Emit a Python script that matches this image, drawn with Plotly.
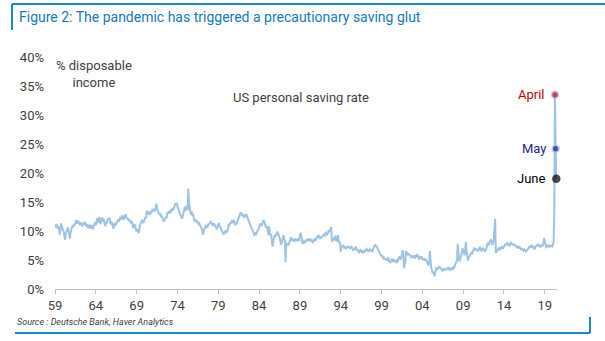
import pandas as pd
import plotly.graph_objects as go

# ---------------- data (monthly, % of disposable income) ----------------
start_month = "1959-01"
saving_rate = [
    11.2, 10.6, 10.9, 11.0, 10.4, 10.8, 10.2, 9.4, 10.0, 11.3, 10.8, 10.5,   # 1959
    10.1, 9.8, 9.0, 8.5, 9.6, 10.1, 10.2, 10.6, 10.0, 9.2, 8.7, 9.8,         # 1960
    10.4, 10.6, 11.0, 10.7, 11.2, 11.0, 11.5, 11.9, 11.3, 11.6, 11.8, 11.4,  # 1961
    11.3, 11.0, 11.5, 11.2, 10.8, 11.4, 11.0, 11.3, 11.6, 11.1, 10.8, 11.2,  # 1962
    10.9, 10.5, 10.8, 11.1, 10.4, 10.7, 11.0, 10.6, 10.3, 10.9, 11.2, 11.5,  # 1963
    11.0, 11.6, 12.2, 11.4, 11.9, 12.4, 11.5, 11.2, 12.0, 12.3, 11.6, 12.2,  # 1964
    11.8, 11.2, 10.8, 11.6, 11.3, 11.9, 12.1, 11.8, 12.3, 11.5, 11.2, 11.7,  # 1965
    11.0, 10.8, 10.4, 11.1, 11.4, 11.0, 11.3, 11.7, 11.9, 12.0, 11.6, 12.2,  # 1966
    12.4, 12.0, 12.5, 12.7, 12.2, 11.9, 12.3, 12.6, 12.9, 12.4, 12.1, 12.3,  # 1967
    11.8, 12.0, 11.6, 11.9, 11.3, 11.7, 10.6, 10.5, 10.9, 11.2, 10.7, 10.3,  # 1968
    9.9, 10.3, 10.1, 9.6, 10.6, 10.9, 11.3, 11.5, 11.9, 11.6, 11.4, 11.8,    # 1969
    12.0, 12.4, 12.2, 13.5, 12.9, 13.1, 13.3, 13.0, 12.8, 13.4, 13.2, 13.6,  # 1970
    13.5, 13.8, 13.4, 13.6, 13.9, 14.7, 13.6, 13.4, 13.2, 13.0, 12.8, 13.1,  # 1971
    12.4, 12.6, 12.2, 12.0, 11.6, 11.9, 12.3, 12.5, 12.2, 13.2, 13.0, 13.4,  # 1972
    13.0, 13.3, 13.5, 13.4, 13.7, 13.9, 13.6, 14.0, 14.3, 14.8, 14.6, 14.9,  # 1973
    14.2, 13.8, 13.6, 13.2, 12.8, 12.5, 12.3, 12.1, 12.6, 13.1, 13.6, 14.2,  # 1974
    13.5, 13.9, 14.3, 13.6, 17.3, 15.0, 13.6, 13.2, 12.8, 13.4, 12.6, 13.0,  # 1975
    12.2, 11.8, 11.9, 11.6, 11.9, 11.4, 11.6, 11.2, 11.3, 11.0, 10.7, 10.6,  # 1976
    10.3, 9.6, 9.4, 10.2, 10.6, 10.4, 10.9, 10.8, 10.6, 11.2, 11.0, 11.3,    # 1977
    11.4, 11.7, 11.5, 11.2, 10.9, 11.1, 11.3, 11.0, 10.8, 10.5, 10.3, 10.8,  # 1978
    11.0, 11.4, 10.9, 10.6, 10.4, 10.2, 10.0, 9.6, 9.4, 9.6, 9.8, 10.1,      # 1979
    9.7, 9.9, 10.2, 11.1, 11.0, 11.2, 11.5, 11.3, 11.7, 11.6, 11.4, 11.9,    # 1980
    11.3, 11.0, 11.2, 11.3, 11.6, 11.9, 12.2, 12.5, 12.8, 13.2, 13.0, 12.7,  # 1981
    12.8, 12.5, 12.4, 12.6, 12.9, 12.6, 12.7, 12.3, 11.8, 11.4, 11.3, 11.0,  # 1982
    10.9, 10.4, 10.3, 10.0, 9.5, 9.3, 9.4, 9.6, 9.5, 9.9, 10.1, 10.2,        # 1983
    10.6, 11.0, 11.3, 11.1, 11.0, 11.3, 11.6, 11.9, 11.5, 11.2, 10.6, 10.9,  # 1984
    10.1, 9.5, 9.3, 10.8, 9.3, 9.5, 9.2, 8.0, 7.3, 8.4, 8.8, 9.3,            # 1985
    9.0, 9.4, 9.8, 9.9, 9.6, 9.3, 8.8, 8.6, 7.7, 7.8, 8.2, 8.6,              # 1986
    9.3, 8.6, 8.4, 4.6, 8.0, 7.7, 7.7, 7.5, 7.8, 8.1, 8.3, 8.9,              # 1987
    8.5, 8.3, 8.6, 8.4, 8.2, 8.5, 8.7, 8.3, 8.6, 8.4, 8.6, 8.5,              # 1988
    9.5, 9.7, 9.2, 8.0, 7.8, 8.1, 8.3, 7.9, 8.2, 8.4, 8.6, 8.3,              # 1989
    8.5, 8.7, 8.4, 8.5, 8.2, 8.6, 8.3, 7.9, 8.3, 8.6, 8.7, 8.3,              # 1990
    8.7, 8.9, 9.0, 9.3, 9.1, 8.8, 8.9, 8.8, 8.9, 9.2, 9.2, 9.4,              # 1991
    9.3, 9.2, 9.7, 9.6, 9.3, 9.8, 10.0, 9.9, 10.0, 10.2, 10.7, 8.1,          # 1992
    8.8, 8.7, 8.6, 8.4, 9.2, 8.5, 8.2, 8.6, 9.3, 8.2, 7.9, 8.1,              # 1993
    6.4, 7.5, 7.2, 7.6, 7.3, 7.0, 7.4, 7.1, 6.9, 7.3, 7.1, 7.4,              # 1994
    7.1, 7.3, 6.9, 7.2, 7.4, 7.0, 6.8, 6.6, 6.9, 7.0, 7.2, 7.1,              # 1995
    6.6, 6.8, 6.3, 6.2, 6.5, 6.7, 6.6, 6.4, 6.5, 6.3, 6.4, 6.6,              # 1996
    6.5, 6.8, 6.9, 6.7, 6.6, 6.4, 6.7, 6.9, 6.6, 6.8, 6.4, 6.8,              # 1997
    7.1, 7.3, 7.5, 7.6, 7.4, 7.3, 7.1, 6.8, 6.5, 6.2, 6.0, 5.8,              # 1998
    5.8, 5.6, 5.4, 5.5, 5.1, 5.3, 5.0, 5.2, 4.9, 5.3, 5.4, 4.7,              # 1999
    4.8, 4.6, 4.9, 5.0, 5.2, 4.7, 5.0, 4.9, 4.6, 4.8, 4.9, 4.5,              # 2000
    5.0, 5.2, 5.6, 5.4, 5.1, 5.3, 6.6, 6.7, 6.0, 3.6, 4.2, 4.6,              # 2001
    6.5, 6.3, 6.0, 5.8, 6.1, 5.9, 5.7, 5.6, 5.8, 5.5, 5.3, 5.6,              # 2002
    5.7, 5.5, 5.4, 5.8, 6.0, 5.6, 5.9, 5.1, 5.3, 5.5, 5.4, 5.6,              # 2003
    5.2, 5.0, 5.3, 5.1, 4.9, 5.2, 4.8, 4.6, 4.4, 4.2, 4.4, 6.6,              # 2004
    3.9, 3.6, 3.3, 2.8, 3.0, 2.5, 2.2, 2.9, 3.5, 3.4, 3.6, 3.5,              # 2005
    3.8, 3.9, 3.7, 3.5, 3.4, 3.6, 3.2, 3.3, 3.4, 3.2, 3.5, 3.3,              # 2006
    3.6, 3.4, 3.8, 3.6, 3.4, 3.2, 3.5, 3.4, 3.6, 3.7, 3.4, 3.9,              # 2007
    4.2, 4.4, 4.8, 4.6, 7.8, 6.2, 5.1, 4.8, 5.2, 5.6, 6.2, 7.0,              # 2008
    6.8, 6.3, 5.8, 6.4, 8.1, 6.6, 5.5, 4.9, 5.4, 5.6, 5.8, 5.9,              # 2009
    6.2, 6.0, 6.3, 6.8, 7.0, 6.9, 6.7, 7.0, 6.8, 6.6, 6.5, 6.8,              # 2010
    7.1, 7.3, 6.8, 6.6, 6.8, 7.0, 6.9, 6.7, 6.5, 6.7, 6.9, 7.4,              # 2011
    8.0, 7.8, 7.7, 8.2, 8.4, 8.5, 8.0, 7.6, 7.9, 8.6, 10.2, 12.1,            # 2012
    6.2, 6.4, 6.6, 6.8, 7.0, 6.9, 6.8, 7.1, 7.3, 7.0, 7.2, 7.1,              # 2013
    7.3, 7.5, 7.7, 7.6, 7.8, 7.9, 7.7, 7.6, 7.4, 7.8, 8.0, 7.9,              # 2014
    7.6, 7.8, 7.5, 7.7, 7.6, 7.4, 7.3, 7.5, 7.2, 7.3, 7.1, 7.2,              # 2015
    7.0, 6.9, 6.8, 6.9, 6.7, 6.6, 6.8, 6.7, 6.5, 6.6, 6.7, 6.9,              # 2016
    7.0, 7.2, 7.3, 7.1, 7.4, 7.6, 7.3, 7.1, 7.0, 7.2, 7.1, 7.5,              # 2017
    7.3, 7.6, 7.8, 7.5, 7.4, 7.3, 7.6, 7.4, 7.3, 7.6, 7.8, 8.8,              # 2018
    8.0, 7.6, 7.2, 7.3, 7.5, 7.4, 7.5, 7.3, 7.4, 7.5, 7.4, 7.3,              # 2019
    7.6, 8.3, 12.9, 33.5, 24.2, 19.0,                                        # 2020
]

highlight_labels = ["April", "May", "June"]
highlight_colors = ["#C00000", "#1F1F8C", "#000000"]

tick_years = [1959, 1964, 1969, 1974, 1979, 1984, 1989, 1994, 1999, 2004, 2009, 2014, 2019]
tick_labels = ["59", "64", "69", "74", "79", "84", "89", "94", "99", "04", "09", "14", "19"]
y_ticks = [0, 5, 10, 15, 20, 25, 30, 35, 40]
y_tick_labels = ["0%", "5%", "10%", "15%", "20%", "25%", "30%", "35%", "40%"]

# ---------------- figure ----------------
dates = pd.date_range(start=start_month, periods=len(saving_rate), freq="MS")
LINE = "#9DC3E6"
FONT = "Roboto"
TEXT = "#404040"
BLUE = "#1479BF"

fig = go.Figure()
fig.add_trace(go.Scatter(
    x=dates, y=saving_rate, mode="lines",
    line=dict(color=LINE, width=2), hoverinfo="skip", showlegend=False,
))

n = len(highlight_labels)
hx = list(dates[-n:])
hy = saving_rate[-n:]
fig.add_trace(go.Scatter(
    x=hx, y=hy, mode="markers", cliponaxis=False,
    marker=dict(color=highlight_colors, size=[7, 7, 7],
                line=dict(color=[LINE, LINE, "#000000"], width=1.5)),
    showlegend=False, hoverinfo="skip",
))
for lab, col, xv, yv in zip(highlight_labels, highlight_colors, hx, hy):
    fig.add_annotation(x=xv, y=yv, text=lab, showarrow=False, xanchor="right",
                       yanchor="middle", xshift=-8,
                       font=dict(family=FONT, size=13, color=col))

# plot-area geometry in pixels (for decorations in paper coords)
L, R, T, B = 55, 48, 57, 52
W, H = 605 - L - R, 341 - T - B

def px(x):
    return (x - L) / W

def py(y):
    return (341 - B - y) / H

fig.add_annotation(xref="paper", yref="paper", x=px(94), y=py(74),
                   text="% disposable<br>income", showarrow=False,
                   xanchor="center", yanchor="middle", align="center",
                   font=dict(family=FONT, size=13, color=TEXT))
fig.add_annotation(xref="paper", yref="paper", x=px(301), y=py(97),
                   text="US personal saving rate", showarrow=False,
                   xanchor="center", yanchor="middle",
                   font=dict(family=FONT, size=13, color=TEXT))
fig.add_annotation(xref="paper", yref="paper", x=px(15), y=py(322),
                   text="<i>Source : Deutsche Bank, Haver Analytics</i>", showarrow=False,
                   xanchor="left", yanchor="middle",
                   font=dict(family=FONT, size=9, color=TEXT))
fig.add_annotation(xref="paper", yref="paper", x=px(17), y=py(17),
                   text="Figure 2: The pandemic has triggered a precautionary saving glut",
                   showarrow=False, xanchor="left", yanchor="middle",
                   font=dict(family=FONT, size=14, color=BLUE))

frame = "#1A88CF"
for x0, y0, x1, y1 in [(12, 4, 605, 4), (12, 4, 12, 30), (15, 333, 590, 333), (590, 317, 590, 333)]:
    fig.add_shape(type="line", xref="paper", yref="paper",
                  x0=px(x0), y0=py(y0), x1=px(x1), y1=py(y1),
                  line=dict(color=frame, width=2))

fig.update_layout(
    width=605, height=341,
    margin=dict(l=L, r=R, t=T, b=B),
    paper_bgcolor="white", plot_bgcolor="white",
    font=dict(family=FONT, size=12, color=TEXT),
    showlegend=False,
)
fig.update_xaxes(
    range=["1959-01-01", "2020-07-01"],
    tickvals=[f"{y}-01-01" for y in tick_years], ticktext=tick_labels,
    showgrid=False, zeroline=False, showline=True, linecolor="#BFBFBF", linewidth=1,
    ticks="outside", ticklen=4, tickcolor="#BFBFBF",
    tickfont=dict(family=FONT, size=13, color=TEXT),
)
fig.update_yaxes(
    range=[0, 40], tickvals=y_ticks, ticktext=y_tick_labels,
    showgrid=False, zeroline=False, showline=False,
    ticks="", ticklabelstandoff=10,
    tickfont=dict(family=FONT, size=13, color=TEXT),
)

fig.write_html("out.html")
